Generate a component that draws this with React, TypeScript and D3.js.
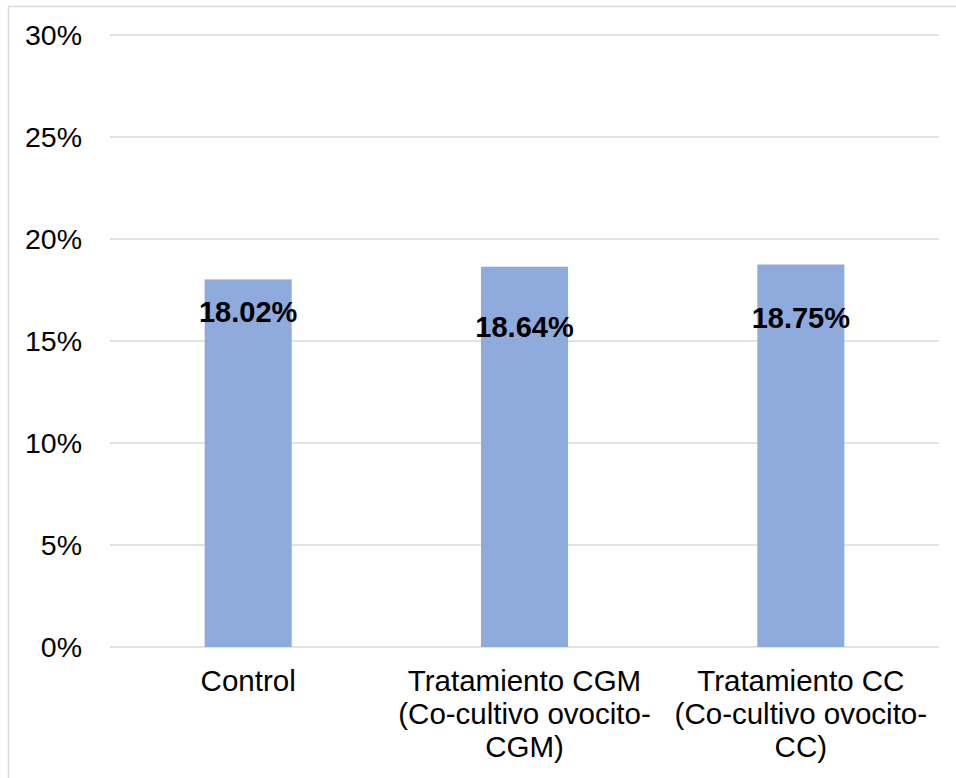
import React from "react";
import * as d3 from "d3";

const categories: string[][] = [
  ["Control"],
  ["Tratamiento CGM", "(Co-cultivo ovocito-", "CGM)"],
  ["Tratamiento CC", "(Co-cultivo ovocito-", "CC)"],
];
const values: number[] = [18.02, 18.64, 18.75];
const valueLabels: string[] = ["18.02%", "18.64%", "18.75%"];
const yTicks: number[] = [0, 5, 10, 15, 20, 25, 30];

// manual label placement (baseline offset below bar top, px)
const labelDy: number[] = [43, 70, 63];

const W = 956;
const H = 778;
const FONT = "'Liberation Sans', Arial, sans-serif";

export default function App() {
  const left = 110;
  const right = 939;
  const top = 35;
  const bottom = 647;

  const x = d3
    .scaleBand<number>()
    .domain(d3.range(values.length))
    .range([left, right])
    .paddingInner(0.685)
    .paddingOuter(0.3425);
  const y = d3.scaleLinear().domain([0, 30]).range([bottom, top]);

  return (
    <svg
      width={W}
      height={H}
      style={{ position: "absolute", left: 0, top: 0 }}
      fontFamily={FONT}
    >
      <rect x={8.5} y={6.5} width={W + 10} height={H + 10} fill="#fff" stroke="#D9D9D9" strokeWidth={1.5} />
      {yTicks.map((t) => (
        <g key={t}>
          <line x1={left} x2={right} y1={y(t)} y2={y(t)} stroke="#D9D9D9" strokeWidth={1.5} />
          <text x={82} y={y(t)} dy="0.36em" textAnchor="end" fontSize={28.5} fill="#000">
            {t + "%"}
          </text>
        </g>
      ))}
      {values.map((v, i) => (
        <rect key={i} x={x(i)} y={y(v)} width={x.bandwidth()} height={bottom - y(v)} fill="#8FAADC" />
      ))}
      {values.map((v, i) => (
        <text
          key={i}
          x={(x(i) as number) + x.bandwidth() / 2}
          y={y(v) + labelDy[i]}
          textAnchor="middle"
          fontSize={29}
          fontWeight="bold"
          fill="#000"
        >
          {valueLabels[i]}
        </text>
      ))}
      {categories.map((lines, i) => (
        <text key={i} textAnchor="middle" fontSize={29.5} fill="#000">
          {lines.map((ln, j) => (
            <tspan key={j} x={(x(i) as number) + x.bandwidth() / 2} y={691 + j * 33}>
              {ln}
            </tspan>
          ))}
        </text>
      ))}
    </svg>
  );
}
